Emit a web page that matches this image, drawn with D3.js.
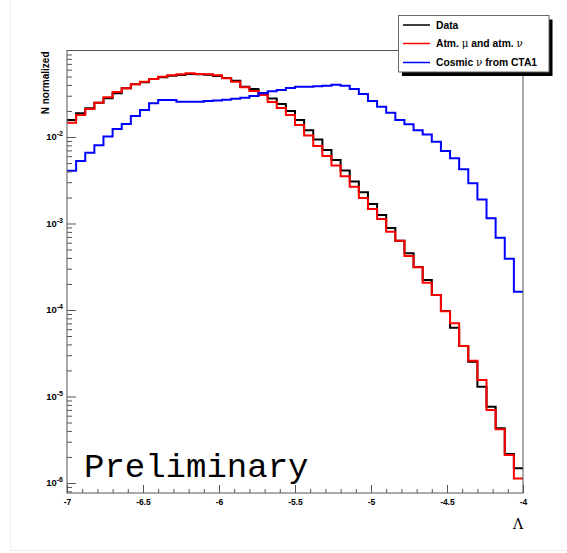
<!DOCTYPE html>
<html>
<head>
<meta charset="utf-8">
<script src="https://cdn.jsdelivr.net/npm/d3@7"></script>
<style>
  body { margin: 0; background: #fff; }
  svg { display: block; }
  text { font-family: "Liberation Sans", Arial, sans-serif; font-weight: bold; fill: #000; }
</style>
</head>
<body>
<div id="chart"></div>
<script>
// Histogram binning: 50 bins over Lambda in [-7, -4].
const BIN_LO = -7;
const BIN_HI = -4;
const N_BINS = 50;

// Normalized counts per bin.
const dataVals = [
  0.0157, 0.0188, 0.0215, 0.0249, 0.0280, 0.0320, 0.0366, 0.0407, 0.0429, 0.0469,
  0.0490, 0.0512, 0.0521, 0.0535, 0.0531, 0.0525, 0.0507, 0.0481, 0.0448, 0.0382,
  0.0359, 0.0323, 0.0279, 0.0241, 0.0200, 0.0157, 0.0120, 0.00935, 0.00708, 0.00542,
  0.00410, 0.00306, 0.00230, 0.00168, 0.00125, 8.87e-4, 6.32e-4, 4.52e-4, 3.14e-4, 2.22e-4,
  1.49e-4, 9.73e-5, 6.24e-5, 3.84e-5, 2.52e-5, 1.30e-5, 7.62e-6, 4.29e-6, 2.16e-6, 1.48e-6
];
const atmVals = [
  0.0146, 0.0180, 0.0211, 0.0249, 0.0288, 0.0331, 0.0366, 0.0407, 0.0436, 0.0469,
  0.0498, 0.0517, 0.0531, 0.0545, 0.0535, 0.0531, 0.0517, 0.0477, 0.0436, 0.0376,
  0.0340, 0.0306, 0.0254, 0.0216, 0.0180, 0.0138, 0.0104, 0.00787, 0.00603, 0.00469,
  0.00351, 0.00266, 0.00197, 0.00147, 0.00113, 8.04e-4, 6.32e-4, 4.21e-4, 3.12e-4, 2.07e-4,
  1.49e-4, 9.66e-5, 7.02e-5, 3.84e-5, 2.59e-5, 1.55e-5, 6.98e-6, 4.18e-6, 2.11e-6, 1.13e-6
];
const cosmicVals = [
  0.00408, 0.00528, 0.00659, 0.00802, 0.0101, 0.0124, 0.0141, 0.0175, 0.0205, 0.0245,
  0.0268, 0.0268, 0.0256, 0.0256, 0.0256, 0.0261, 0.0265, 0.0270, 0.0277, 0.0285,
  0.0298, 0.0320, 0.0338, 0.0349, 0.0368, 0.0382, 0.0382, 0.0385, 0.0392, 0.0403,
  0.0392, 0.0359, 0.0314, 0.0261, 0.0224, 0.0191, 0.0157, 0.0140, 0.0120, 0.0107,
  0.00883, 0.00689, 0.00567, 0.00423, 0.00292, 0.00190, 0.00115, 6.85e-4, 3.92e-4, 1.63e-4
];

const xTicks = [-7, -6.5, -6, -5.5, -5, -4.5, -4];
const yDecades = [1e-6, 1e-5, 1e-4, 1e-3, 1e-2];
const yDecadeExp = ["-6", "-5", "-4", "-3", "-2"];
const seriesNames = ["Data", "Atm. \u03bc and atm. \u03bd", "Cosmic \u03bd from CTA1"];
const seriesColors = ["#000000", "#ff0000", "#0000ff"];

const WIDTH = 567;
const HEIGHT = 553;
const FRAME = { left: 67, right: 523, top: 50.5, bottom: 493 };

const svg = d3.select("#chart").append("svg")
  .attr("width", WIDTH)
  .attr("height", HEIGHT);

// faint canvas border of the screenshot
svg.append("path")
  .attr("d", "M10.5,0V550.5H567")
  .attr("fill", "none")
  .attr("stroke", "#ececec");

const x = d3.scaleLinear().domain([BIN_LO, BIN_HI]).range([FRAME.left, FRAME.right]);
const y = d3.scaleLog().domain([7.66e-7, 0.1]).range([FRAME.bottom, FRAME.top]);

svg.append("clipPath").attr("id", "plot-clip")
  .append("rect")
  .attr("x", FRAME.left).attr("y", FRAME.top)
  .attr("width", FRAME.right - FRAME.left).attr("height", FRAME.bottom - FRAME.top);

// Histograms, drawn as step outlines.
const edges = d3.range(N_BINS + 1).map(i => BIN_LO + i * (BIN_HI - BIN_LO) / N_BINS);
const stepLine = d3.line()
  .x(d => x(d[0]))
  .y(d => y(d[1]))
  .curve(d3.curveStepAfter);

const plot = svg.append("g").attr("clip-path", "url(#plot-clip)");
[dataVals, atmVals, cosmicVals].forEach((vals, k) => {
  const pts = vals.map((v, i) => [edges[i], v]);
  pts.push([edges[N_BINS], vals[N_BINS - 1]]);
  plot.append("path")
    .attr("d", stepLine(pts))
    .attr("fill", "none")
    .attr("stroke", seriesColors[k])
    .attr("stroke-width", 2);
});

// Frame
svg.append("rect")
  .attr("x", FRAME.left).attr("y", FRAME.top)
  .attr("width", FRAME.right - FRAME.left).attr("height", FRAME.bottom - FRAME.top)
  .attr("fill", "none")
  .attr("stroke", "#555")
  .attr("stroke-width", 1);

// X axis: major ticks with labels, minor ticks every 0.1
const xMinor = d3.range(-70, -39).map(d => d / 10).filter(d => !xTicks.includes(d));
const xAxisMajor = d3.axisBottom(x).tickValues(xTicks).tickSize(-8).tickPadding(6)
  .tickFormat(d => String(d));
const xAxisMinor = d3.axisBottom(x).tickValues(xMinor).tickSize(-4).tickFormat("");

const gx = svg.append("g").attr("transform", `translate(0,${FRAME.bottom})`);
gx.call(xAxisMajor);
gx.append("g").call(xAxisMinor);
gx.selectAll(".domain").remove();
gx.selectAll("line").attr("stroke", "#555");
gx.selectAll("text")
  .style("font-size", "8.5px")
  .style("font-weight", "bold")
  .attr("fill", "#000");

// Y axis: decades with 10^n labels, minor ticks at 2..9
const yMinor = [];
[-7, -6, -5, -4, -3, -2].forEach(e => {
  for (let k = 2; k <= 9; k++) {
    const v = k * Math.pow(10, e);
    if (v >= y.domain()[0] && v <= y.domain()[1]) yMinor.push(v);
  }
});
const yAxisMajor = d3.axisLeft(y).tickValues(yDecades).tickSize(-9).tickFormat("");
const yAxisMinor = d3.axisLeft(y).tickValues(yMinor).tickSize(-5).tickFormat("");

const gy = svg.append("g").attr("transform", `translate(${FRAME.left},0)`);
gy.call(yAxisMajor);
gy.append("g").call(yAxisMinor);
gy.selectAll(".domain").remove();
gy.selectAll("line").attr("stroke", "#555");

const yLabels = svg.append("g");
yDecades.forEach((v, i) => {
  const t = yLabels.append("text")
    .attr("x", FRAME.left - 4)
    .attr("y", y(v) + 3.5)
    .attr("text-anchor", "end")
    .style("font-size", "9.5px");
  t.append("tspan").text("10");
  t.append("tspan").attr("dy", -4).style("font-size", "7px").text(yDecadeExp[i]);
});

// Axis titles
svg.append("text")
  .attr("transform", `translate(49,${FRAME.top + 1}) rotate(-90)`)
  .attr("text-anchor", "end")
  .style("font-size", "10px")
  .text("N normalized");

svg.append("text")
  .attr("x", FRAME.right)
  .attr("y", 529)
  .attr("text-anchor", "end")
  .style("font-family", "'DejaVu Serif', serif")
  .style("font-weight", "normal")
  .style("font-size", "14px")
  .text("\u039b");

// Preliminary stamp
svg.append("text")
  .attr("x", 84)
  .attr("y", 477)
  .style("font-family", "'Liberation Mono', 'Courier New', monospace")
  .style("font-weight", "normal")
  .style("font-size", "34px")
  .attr("fill", "#222")
  .text("Preliminary");

// Legend with shadow
const LEG = { x: 398.5, y: 15.5, w: 150.5, h: 56.5 };
svg.append("rect")
  .attr("x", LEG.x + 3.5).attr("y", LEG.y + 4)
  .attr("width", LEG.w).attr("height", LEG.h)
  .attr("fill", "#000");
svg.append("rect")
  .attr("x", LEG.x).attr("y", LEG.y)
  .attr("width", LEG.w).attr("height", LEG.h)
  .attr("fill", "#fff")
  .attr("stroke", "#666");

const rowY = [25, 43.5, 62.5];
seriesNames.forEach((name, k) => {
  svg.append("line")
    .attr("x1", 403).attr("x2", 430)
    .attr("y1", rowY[k]).attr("y2", rowY[k])
    .attr("stroke", seriesColors[k])
    .attr("stroke-width", 1.5);
  const t = svg.append("text")
    .attr("x", 436)
    .attr("y", rowY[k] + 3.5)
    .style("font-size", "10.3px");
  // Greek letters in a plain serif face, like ROOT's symbol font
  name.split(/([\u03bc\u03bd])/).forEach(part => {
    if (!part) return;
    const greek = /[\u03bc\u03bd]/.test(part);
    t.append("tspan")
      .style("font-family", greek ? "'DejaVu Serif', serif" : null)
      .style("font-weight", greek ? "normal" : null)
      .text(part);
  });
});
</script>
</body>
</html>
